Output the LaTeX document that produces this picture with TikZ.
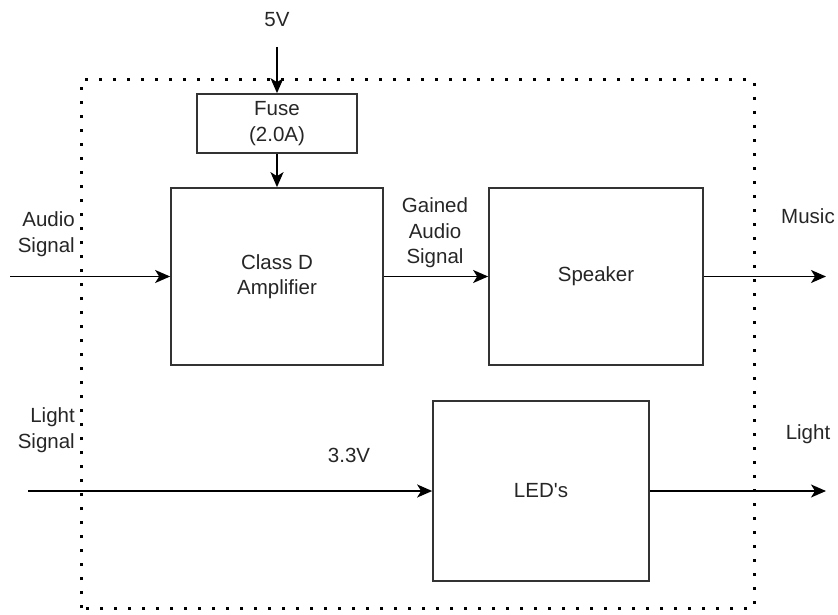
\documentclass[tikz,border=0pt]{standalone}
\usepackage{fontspec}
\setmainfont{Liberation Sans}[Ligatures=TeXOff]
\usetikzlibrary{arrows.meta}
\begin{document}
\begin{tikzpicture}[x=1pt,y=-1pt,
  every node/.style={font=\fontsize{20.5}{25.5}\selectfont, text=black!85},
  blockbox/.style={draw=black!80, line width=1.7pt, fill=white, inner sep=0pt},
  conn/.style={draw=black, line width=1.7pt, -{Stealth[length=15pt,width=13pt,inset=4pt]}},
  dotbox/.style={draw=black, line width=3pt, line cap=butt, dash pattern=on 3pt off 11pt},
  lbl/.style={align=center, inner sep=0pt},
  rlbl/.style={align=right, inner sep=0pt}
]
\useasboundingbox (0,0) rectangle (838,615);
% dotted enclosure
\draw[dotbox] (81,608) -- (81,80) -- (754,80) -- (754,608) -- cycle;

% blocks
\node[blockbox, minimum width=160pt, minimum height=59pt, lbl] (fuse) at (277,123.5) {Fuse\\(2.0A)};
\node[blockbox, minimum width=212pt, minimum height=177pt, lbl] (amp) at (277,276.5) {Class D\\Amplifier};
\node[blockbox, minimum width=214pt, minimum height=177pt, lbl] (spk) at (596,276.5) {Speaker};
\node[blockbox, minimum width=216pt, minimum height=180pt, lbl] (led) at (541,491) {LED's};

% free ends
\coordinate (vin) at (277,47);
\coordinate (ain) at (10,276.5);
\coordinate (mout) at (826,276.5);
\coordinate (lin) at (28,491);
\coordinate (lout) at (826,491);

% connectors
\draw[conn] (vin) -- (fuse.north);
\draw[conn] (fuse.south) -- (amp.north);
\draw[conn] (ain) -- (amp.west);
\draw[conn] (amp.east) -- (spk.west);
\draw[conn] (spk.east) -- (mout);
\draw[conn] (lin) -- (led.west);
\draw[conn] (led.east) -- (lout);

% labels
\node[lbl] (l5v) at (277,20) {5V};
\node[rlbl, anchor=east] (laud) at (75,234) {Audio\\Signal};
\node[rlbl, anchor=east] (llig) at (75,430) {Light\\Signal};
\node[lbl] (lgain) at (435,233) {Gained\\Audio\\Signal};
\node[lbl] (lmus) at (808,216) {Music};
\node[lbl] (llight) at (808,434) {Light};
\node[lbl] (l33) at (349,455) {3.3V};
\end{tikzpicture}
\end{document}
